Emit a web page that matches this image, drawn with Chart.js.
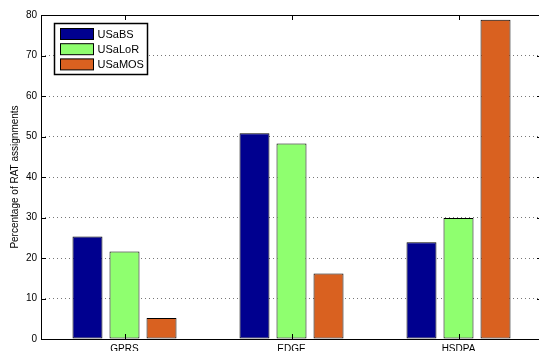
<!DOCTYPE html>
<html>
<head>
<meta charset="utf-8">
<script src="https://cdn.jsdelivr.net/npm/chart.js@4.4.0/dist/chart.umd.min.js"></script>
<style>
  html, body { margin: 0; padding: 0; background: #fff; overflow: hidden; }
  #wrap { position: relative; width: 545px; height: 351px; }
</style>
</head>
<body>
<div id="wrap"><canvas id="ratChart"></canvas></div>
<script>
const categories = ['GPRS', 'EDGE', 'HSDPA'];
const seriesNames = ['USaBS', 'USaLoR', 'USaMOS'];
const usaBS = [25.3, 50.8, 23.9];
const usaLoR = [21.6, 48.3, 29.9];
const usaMOS = [5.2, 16.2, 78.8];
const yTicks = [0, 10, 20, 30, 40, 50, 60, 70, 80];
const colors = ['#00008f', '#8fff6f', '#d96120'];

// box, inner ticks
const framePlugin = {
  id: 'frame',
  afterDatasetsDraw(chart) {
    const ctx = chart.ctx;
    const a = chart.chartArea;
    const x = chart.scales.x, y = chart.scales.y;
    function line(x1, y1, x2, y2) {
      ctx.beginPath(); ctx.moveTo(x1, y1); ctx.lineTo(x2, y2); ctx.stroke();
    }
    ctx.save();
    ctx.strokeStyle = '#000';
    ctx.lineWidth = 1;
    ctx.strokeRect(Math.round(a.left) + 0.5, Math.round(a.top) + 0.5,
      Math.round(a.right - a.left), Math.round(a.bottom - a.top));
    yTicks.forEach(function (v) {
      const py = Math.round(y.getPixelForValue(v)) + 0.5;
      line(a.left, py, a.left + 5, py);
      line(a.right - 5, py, a.right, py);
    });
    categories.forEach(function (c, i) {
      const px = Math.round(x.getPixelForValue(i)) + 0.5;
      line(px, a.top, px, a.top + 5);
      line(px, a.bottom - 5, px, a.bottom);
    });
    ctx.restore();
  },
  afterDraw(chart) {
    // legend box in the upper left corner
    const ctx = chart.ctx;
    const a = chart.chartArea;
    const bx = Math.round(a.left) + 13.5, by = Math.round(a.top) + 8.5;
    ctx.save();
    ctx.fillStyle = '#fff';
    ctx.fillRect(bx, by, 93, 51);
    ctx.strokeStyle = '#000';
    ctx.lineWidth = 1.5;
    ctx.strokeRect(bx, by, 93, 51);
    ctx.font = '11px "Liberation Sans", Arial, sans-serif';
    ctx.textBaseline = 'middle';
    chart.data.datasets.forEach(function (ds, i) {
      const cy = by + 10.5 + i * 15.2;
      ctx.fillStyle = ds.backgroundColor;
      ctx.fillRect(bx + 6, cy - 5.5, 33, 11);
      ctx.lineWidth = 1;
      ctx.strokeStyle = '#000';
      ctx.strokeRect(bx + 6, cy - 5.5, 33, 11);
      ctx.fillStyle = '#000';
      ctx.fillText(ds.label, bx + 43, cy + 0.5);
    });
    ctx.restore();
  }
};

const ctx = document.getElementById('ratChart').getContext('2d');
new Chart(ctx, {
  type: 'bar',
  data: {
    labels: categories,
    datasets: [
      { label: seriesNames[0], data: usaBS, backgroundColor: colors[0] },
      { label: seriesNames[1], data: usaLoR, backgroundColor: colors[1] },
      { label: seriesNames[2], data: usaMOS, backgroundColor: colors[2] }
    ].map(function (d) {
      d.borderColor = '#000';
      d.borderWidth = 1;
      d.borderSkipped = false;
      d.categoryPercentage = 0.665;
      d.barPercentage = 0.81;
      return d;
    })
  },
  options: {
    responsive: true,
    maintainAspectRatio: false,
    animation: false,
    layout: { padding: { top: 15, right: 3, left: 0, bottom: 0 } },
    plugins: {
      legend: { display: false },
      tooltip: { enabled: false }
    },
    scales: {
      x: {
        grid: { display: false, drawTicks: false },
        border: { display: false },
        ticks: {
          color: '#000',
          padding: 4,
          font: { family: '"Liberation Sans", Arial, sans-serif', size: 10 }
        },
        afterFit: function (scale) { scale.height = 12; }
      },
      y: {
        min: 0,
        max: 80,
        afterBuildTicks: function (scale) {
          scale.ticks = yTicks.map(function (v) { return { value: v }; });
        },
        afterFit: function (scale) { scale.width = 41; },
        grid: {
          drawTicks: false,
          color: function (c) {
            return (c.tick && (c.tick.value === 0 || c.tick.value === 80)) ? 'rgba(0,0,0,0)' : '#777';
          },
          lineWidth: 1
        },
        border: { display: false, dash: [1, 3] },
        ticks: {
          color: '#000',
          padding: 4,
          font: { family: '"Liberation Sans", Arial, sans-serif', size: 10 }
        },
        title: {
          display: true,
          text: 'Percentage of RAT assignments',
          color: '#000',
          padding: { top: 9, bottom: 0 },
          font: { family: '"Liberation Sans", Arial, sans-serif', size: 10 }
        }
      }
    }
  },
  plugins: [framePlugin]
});
</script>
</body>
</html>
